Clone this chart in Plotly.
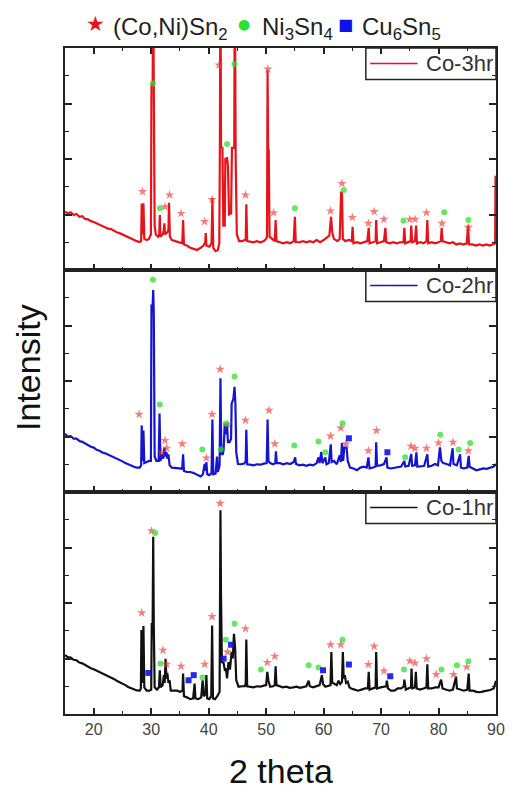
import plotly.graph_objects as go
from plotly.subplots import make_subplots

# ---------------------------------------------------------------------------
# XRD patterns (2theta in degrees, intensity in % of panel height)
# ---------------------------------------------------------------------------
co3hr_pattern = [
    (15.0, 26.3), (15.5, 25.5), (16.0, 26.0), (16.5, 24.8), (17.0, 25.2), (17.5, 24.0),
    (18.0, 24.2), (18.5, 23.0), (19.0, 22.8), (19.5, 22.0), (20.0, 21.6), (20.5, 21.0),
    (21.0, 20.3), (21.5, 19.8), (22.0, 19.4), (22.5, 18.6), (23.0, 18.4), (23.5, 17.6),
    (24.0, 17.0), (24.5, 16.6), (25.0, 16.0), (25.5, 15.2), (26.0, 14.8), (26.5, 14.0),
    (27.0, 13.6), (27.5, 13.0), (28.0, 12.6), (28.25, 13.0), (28.35, 30.0), (28.5, 16.0),
    (28.65, 30.0), (28.8, 14.0), (29.2, 13.5), (29.6, 14.0), (29.95, 16.0), (30.05, 83.0),
    (30.25, 85.0), (30.35, 130.0), (30.45, 82.0), (30.6, 20.0), (30.8, 16.0), (31.2, 15.0),
    (31.4, 16.0), (31.5, 24.8), (31.6, 15.0), (32.0, 16.0), (32.2, 18.0), (32.3, 21.0),
    (32.4, 16.0), (32.8, 17.0), (33.0, 18.0), (33.1, 30.3), (33.25, 15.0), (33.6, 13.5),
    (34.2, 13.0), (34.8, 12.5), (35.4, 12.0), (35.55, 22.5), (35.7, 11.5), (36.2, 11.0),
    (36.8, 10.0), (37.4, 9.5), (38.0, 9.0), (38.6, 10.0), (39.1, 11.0), (39.4, 12.5),
    (39.5, 16.6), (39.6, 11.0), (40.1, 10.5), (40.5, 12.0), (40.65, 32.4), (40.8, 10.0),
    (41.2, 8.5), (41.6, 9.0), (41.85, 12.0), (41.95, 55.0), (42.05, 135.0), (42.15, 55.5),
    (42.4, 55.0), (42.55, 20.0), (42.8, 20.0), (42.9, 50.0), (43.2, 50.4), (43.35, 47.0),
    (43.55, 25.0), (43.9, 25.5), (44.05, 55.0), (44.45, 55.0), (44.55, 135.0), (44.7, 50.0),
    (44.9, 16.0), (45.3, 13.0), (45.8, 13.0), (46.3, 13.5), (46.45, 14.0), (46.55, 29.6),
    (46.7, 13.0), (47.2, 12.8), (47.8, 12.5), (48.4, 13.0), (49.0, 12.5), (49.6, 13.0),
    (50.0, 14.0), (50.15, 15.0), (50.25, 90.0), (50.35, 54.0), (50.45, 54.0), (50.6, 15.0),
    (51.0, 14.0), (51.5, 13.0), (51.65, 22.5), (51.8, 13.0), (52.4, 12.5), (53.0, 12.0),
    (53.6, 12.5), (54.2, 12.0), (54.8, 13.0), (55.0, 24.0), (55.15, 12.5), (55.8, 12.5),
    (56.4, 13.0), (57.0, 12.5), (57.6, 13.0), (58.2, 12.5), (58.8, 13.5), (59.4, 12.5),
    (60.0, 13.5), (60.6, 14.5), (61.0, 15.5), (61.3, 24.0), (61.5, 17.0), (61.8, 14.0),
    (62.4, 13.0), (62.8, 14.0), (62.95, 25.0), (63.05, 35.3), (63.2, 34.5), (63.35, 14.0),
    (63.8, 13.0), (64.4, 13.5), (64.9, 13.0), (65.05, 19.5), (65.2, 12.0), (65.8, 12.5),
    (66.4, 12.0), (67.0, 12.5), (67.6, 13.0), (67.85, 19.0), (68.0, 12.0), (68.6, 12.5),
    (69.05, 13.0), (69.15, 22.5), (69.3, 12.0), (69.9, 12.5), (70.5, 13.0), (70.75, 19.0),
    (70.9, 12.5), (71.5, 12.0), (72.1, 12.5), (72.7, 12.0), (73.3, 12.5), (73.9, 12.5),
    (74.05, 19.0), (74.2, 12.0), (74.8, 12.5), (75.15, 13.0), (75.25, 20.0), (75.4, 12.5),
    (75.9, 13.0), (76.1, 20.0), (76.25, 12.0), (76.8, 12.5), (77.4, 12.0), (77.9, 13.0),
    (78.05, 22.5), (78.2, 12.0), (78.8, 12.5), (79.4, 12.0), (80.0, 12.5), (80.4, 13.0),
    (80.55, 19.0), (80.7, 13.0), (81.3, 12.5), (81.9, 12.0), (82.5, 12.5), (83.1, 11.5),
    (83.7, 12.0), (84.3, 11.5), (84.9, 12.0), (85.15, 20.0), (85.3, 11.5), (85.9, 11.5),
    (86.5, 11.0), (87.1, 11.5), (87.7, 11.0), (88.3, 11.5), (88.9, 11.0), (89.5, 11.5),
    (89.85, 12.0), (89.92, 42.0), (90.0, 42.0),
]

co2hr_pattern = [
    (15.0, 26.2), (15.5, 25.0), (16.0, 25.2), (16.5, 24.0), (17.0, 24.0), (17.5, 23.0),
    (18.0, 22.6), (18.5, 21.8), (19.0, 21.2), (19.5, 20.4), (20.0, 20.0), (20.5, 19.0),
    (21.0, 18.6), (21.5, 17.8), (22.0, 17.4), (22.5, 16.8), (23.0, 16.4), (23.5, 15.8),
    (24.0, 15.2), (24.5, 14.4), (25.0, 13.8), (25.5, 13.0), (26.0, 12.4), (26.5, 11.8),
    (27.0, 11.4), (27.5, 11.0), (28.0, 11.0), (28.25, 12.0), (28.35, 30.0), (28.5, 14.0),
    (28.65, 27.7), (28.8, 13.0), (29.2, 13.5), (29.6, 14.0), (29.95, 14.0), (30.05, 84.0),
    (30.25, 84.0), (30.35, 91.0), (30.45, 80.0), (30.6, 16.0), (30.9, 14.0), (31.3, 14.0),
    (31.45, 35.3), (31.6, 14.0), (31.9, 17.0), (32.1, 15.0), (32.3, 20.0), (32.5, 16.0),
    (32.65, 18.0), (32.8, 15.0), (33.0, 17.0), (33.2, 12.0), (33.6, 11.0), (34.2, 10.8),
    (34.8, 10.5), (35.4, 10.5), (35.55, 17.0), (35.7, 9.5), (36.2, 9.0), (36.8, 9.0),
    (37.4, 8.5), (38.0, 7.6), (38.6, 7.0), (39.0, 8.0), (39.3, 12.7), (39.5, 9.5),
    (39.6, 13.5), (39.75, 8.0), (40.1, 7.6), (40.5, 8.5), (40.65, 32.6), (40.8, 8.0),
    (41.2, 8.3), (41.45, 16.0), (41.6, 9.0), (41.9, 12.0), (42.05, 51.2), (42.2, 17.0),
    (42.45, 17.0), (42.6, 19.0), (42.8, 30.8), (43.05, 26.0), (43.2, 30.8), (43.35, 22.4),
    (43.65, 22.4), (43.9, 24.0), (44.0, 39.8), (44.3, 42.0), (44.5, 47.4), (44.65, 40.0),
    (44.8, 18.0), (45.1, 12.6), (45.6, 12.5), (46.2, 12.8), (46.45, 14.0), (46.55, 28.0),
    (46.7, 12.5), (47.2, 12.3), (47.8, 12.0), (48.4, 12.5), (49.0, 12.3), (49.6, 12.8),
    (50.1, 13.0), (50.25, 32.6), (50.4, 14.0), (50.7, 13.0), (51.2, 12.5), (51.6, 13.0),
    (51.7, 18.3), (51.85, 13.0), (52.4, 13.0), (53.0, 12.5), (53.6, 13.0), (54.2, 12.6),
    (54.8, 13.5), (55.05, 15.6), (55.2, 12.6), (55.8, 12.0), (56.4, 12.3), (57.0, 11.8),
    (57.6, 12.3), (58.2, 12.0), (58.8, 13.0), (59.1, 15.6), (59.3, 13.0), (59.6, 18.0),
    (59.8, 13.0), (60.3, 15.6), (60.5, 12.5), (60.9, 13.0), (61.25, 21.5), (61.4, 13.5),
    (61.8, 14.0), (62.3, 12.5), (62.8, 16.5), (63.0, 13.5), (63.2, 22.0), (63.4, 14.0),
    (63.6, 20.0), (64.0, 20.0), (64.2, 14.0), (64.6, 11.0), (65.2, 10.6), (65.8, 9.8),
    (66.4, 11.0), (67.0, 11.4), (67.5, 11.0), (67.8, 15.6), (68.0, 10.6), (68.6, 11.0),
    (69.05, 11.5), (69.15, 22.4), (69.3, 11.8), (69.9, 12.0), (70.5, 12.6), (70.95, 15.6),
    (71.1, 11.0), (71.7, 10.6), (72.3, 11.0), (72.9, 11.4), (73.5, 11.5), (74.05, 14.0),
    (74.2, 11.5), (74.8, 11.8), (75.25, 17.1), (75.4, 11.8), (75.9, 12.0), (76.15, 17.9),
    (76.3, 11.4), (76.9, 11.5), (77.5, 11.8), (78.05, 17.0), (78.2, 11.4), (78.8, 11.8),
    (79.4, 12.6), (79.9, 12.0), (80.25, 20.1), (80.5, 14.0), (80.8, 13.0), (81.4, 12.6),
    (82.0, 12.0), (82.45, 19.7), (82.6, 12.6), (83.2, 12.0), (83.75, 17.0), (83.9, 11.0),
    (84.4, 10.6), (85.0, 11.0), (85.25, 16.3), (85.4, 11.4), (86.0, 10.5), (86.6, 9.8),
    (87.2, 10.2), (87.8, 10.6), (88.4, 10.4), (89.0, 11.0), (89.6, 11.5), (90.0, 12.6),
]

co1hr_pattern = [
    (15.0, 26.5), (15.5, 25.6), (16.0, 25.4), (16.5, 24.4), (17.0, 24.2), (17.5, 23.2),
    (18.0, 22.8), (18.5, 22.0), (19.0, 21.2), (19.5, 20.6), (20.0, 20.2), (20.5, 19.6),
    (21.0, 19.0), (21.5, 18.2), (22.0, 17.6), (22.5, 17.0), (23.0, 16.6), (23.5, 15.8),
    (24.0, 15.0), (24.5, 14.4), (25.0, 13.6), (25.5, 13.0), (26.0, 12.2), (26.5, 11.6),
    (27.0, 11.0), (27.5, 10.6), (28.0, 10.5), (28.2, 11.5), (28.3, 37.8), (28.45, 14.0),
    (28.65, 39.6), (28.8, 12.0), (29.2, 10.5), (29.7, 10.5), (30.0, 11.0), (30.1, 40.5),
    (30.25, 40.5), (30.35, 79.8), (30.45, 40.0), (30.6, 12.0), (31.0, 11.0), (31.35, 12.0),
    (31.5, 19.7), (31.65, 12.0), (32.0, 13.0), (32.2, 17.5), (32.35, 14.0), (32.5, 24.9),
    (32.65, 16.0), (32.8, 18.5), (33.0, 14.0), (33.2, 15.2), (33.4, 10.5), (33.9, 10.5),
    (34.5, 10.5), (35.0, 10.0), (35.45, 10.5), (35.55, 18.2), (35.7, 8.0), (36.2, 7.5),
    (36.8, 6.7), (37.3, 7.0), (37.55, 13.7), (37.7, 7.0), (38.2, 6.7), (38.7, 7.5),
    (38.95, 15.2), (39.15, 8.0), (39.45, 9.0), (39.6, 17.5), (39.75, 7.0), (40.1, 6.7),
    (40.45, 8.0), (40.6, 39.9), (40.75, 7.0), (41.1, 6.7), (41.5, 8.0), (41.9, 10.0),
    (42.0, 53.4), (42.05, 91.8), (42.15, 53.4), (42.3, 23.4), (42.6, 23.0), (42.8, 20.0),
    (43.0, 20.4), (43.2, 16.0), (43.45, 23.4), (43.7, 20.0), (44.0, 27.9), (44.2, 25.0),
    (44.4, 36.1), (44.6, 30.0), (44.8, 15.2), (45.2, 12.3), (45.8, 12.5), (46.3, 12.5),
    (46.45, 14.0), (46.55, 33.5), (46.7, 12.5), (47.2, 12.3), (47.8, 12.0), (48.4, 12.5),
    (49.0, 12.3), (49.6, 12.8), (50.0, 13.0), (50.2, 19.0), (50.4, 15.0), (50.7, 12.3),
    (51.2, 12.5), (51.5, 13.0), (51.65, 21.5), (51.8, 13.0), (52.3, 12.5), (52.9, 12.0),
    (53.5, 12.3), (54.1, 11.8), (54.7, 12.0), (55.3, 12.3), (55.9, 11.8), (56.5, 12.0),
    (57.0, 12.5), (57.4, 15.0), (57.6, 12.5), (58.2, 12.0), (58.8, 12.5), (59.3, 13.0),
    (59.7, 17.5), (59.9, 13.5), (60.3, 12.3), (60.8, 12.5), (61.2, 13.0), (61.35, 27.9),
    (61.5, 14.0), (61.8, 13.7), (62.3, 13.0), (62.6, 15.0), (62.9, 13.5), (63.2, 14.5),
    (63.35, 27.9), (63.5, 16.0), (63.7, 17.5), (63.9, 14.0), (64.2, 14.5), (64.5, 12.0),
    (64.8, 11.5), (65.4, 11.0), (66.0, 10.5), (66.6, 11.0), (67.2, 11.5), (67.7, 11.5),
    (67.85, 19.0), (68.0, 11.0), (68.6, 11.5), (69.05, 12.0), (69.15, 27.9), (69.3, 11.5),
    (69.9, 12.0), (70.5, 12.3), (70.9, 12.5), (71.0, 15.0), (71.2, 11.5), (71.7, 10.5),
    (72.3, 10.5), (72.9, 11.5), (73.5, 11.5), (73.95, 12.5), (74.05, 15.5), (74.3, 11.0),
    (74.8, 11.5), (75.2, 12.0), (75.3, 20.5), (75.45, 11.5), (75.9, 12.0), (76.05, 19.0),
    (76.2, 11.5), (76.8, 11.0), (77.4, 11.5), (77.9, 12.0), (78.05, 22.4), (78.2, 11.5),
    (78.8, 11.5), (79.4, 12.0), (80.0, 12.0), (80.45, 15.5), (80.7, 11.5), (81.3, 11.0),
    (81.9, 10.5), (82.5, 11.0), (83.05, 16.8), (83.2, 11.5), (83.8, 11.0), (84.4, 10.5),
    (85.0, 11.0), (85.25, 18.2), (85.4, 10.5), (86.0, 10.5), (86.6, 10.0), (87.2, 9.8),
    (87.8, 10.2), (88.4, 10.5), (89.0, 10.8), (89.6, 11.5), (89.9, 15.0), (90.0, 15.0),
]

# ---------------------------------------------------------------------------
# Phase identification marks (2theta, height) per sample
# ---------------------------------------------------------------------------
coni_sn2_3hr = [
    (28.5, 35.3), (32.4, 28.5), (33.2, 33.8), (35.2, 25.5), (39.3, 21.8), (40.6, 31.8),
    (41.8, 92.3), (46.4, 33.8), (50.3, 90.5), (51.3, 25.8), (61.2, 26.6), (63.2, 39.0),
    (65.0, 23.7), (67.8, 21.0), (68.8, 26.3), (70.5, 22.8), (75.0, 22.8), (75.9, 22.8),
    (77.9, 25.8), (80.6, 21.0), (85.2, 19.2),
]
ni3sn4_3hr = [
    (30.3, 84.0), (31.5, 27.8), (43.2, 56.8), (44.5, 92.8), (55.0, 27.8), (63.5, 36.0),
    (73.9, 22.2), (81.0, 26.0), (85.2, 22.5),
]
cu6sn5_3hr = []

coni_sn2_2hr = [
    (27.9, 35.0), (31.8, 17.9), (32.4, 23.2), (32.7, 19.7), (35.4, 21.7), (39.6, 15.3),
    (40.6, 35.0), (42.0, 55.3), (43.3, 30.5), (46.4, 32.3), (50.5, 36.8), (51.5, 21.7),
    (61.2, 25.2), (63.0, 28.8), (63.9, 21.7), (67.8, 18.6), (69.2, 27.7), (75.2, 20.6),
    (75.9, 19.7), (77.9, 19.7), (80.0, 22.1), (82.5, 22.4), (85.2, 18.6),
]
ni3sn4_2hr = [
    (30.3, 95.6), (31.5, 39.4), (38.9, 19.1), (42.1, 19.1), (43.0, 30.8), (44.5, 52.0),
    (54.9, 20.9), (59.1, 22.7), (60.3, 17.9), (63.3, 31.0), (74.2, 15.6), (80.3, 25.8),
    (83.5, 19.1), (85.5, 22.1),
]
cu6sn5_2hr = [(64.4, 24.2), (71.1, 17.9)]

coni_sn2_1hr = [
    (28.35, 45.6), (30.05, 82.5), (32.05, 28.7), (32.7, 22.4), (35.2, 21.5), (39.3, 22.4),
    (40.6, 43.9), (42.0, 94.9), (43.3, 27.9), (46.4, 38.4), (50.2, 23.2), (51.5, 26.0),
    (61.2, 31.2), (63.0, 31.2), (67.8, 22.3), (68.8, 30.5), (70.5, 19.4), (75.0, 23.9),
    (75.9, 23.0), (77.9, 24.9), (79.6, 17.8), (82.6, 17.8), (84.9, 21.2),
]
ni3sn4_1hr = [
    (30.7, 81.5), (31.6, 22.7), (38.9, 16.4), (43.0, 33.5), (44.5, 40.6), (49.1, 20.0),
    (57.4, 22.0), (59.1, 20.9), (63.3, 33.5), (74.0, 20.0), (80.5, 20.0), (83.2, 22.0),
    (85.2, 23.8),
]
cu6sn5_1hr = [
    (29.5, 18.5), (36.5, 15.2), (37.4, 17.5), (42.6, 24.9), (43.9, 31.2), (59.9, 19.7),
    (64.4, 22.3), (71.6, 17.0),
]

sample_names = ["Co-3hr", "Co-2hr", "Co-1hr"]
sample_colors = ["#e8121a", "#1414d2", "#111111"]
patterns = [co3hr_pattern, co2hr_pattern, co1hr_pattern]
phase_marks = [
    (coni_sn2_3hr, ni3sn4_3hr, cu6sn5_3hr),
    (coni_sn2_2hr, ni3sn4_2hr, cu6sn5_2hr),
    (coni_sn2_1hr, ni3sn4_1hr, cu6sn5_1hr),
]
phase_style = [
    dict(symbol="star", color="#f03838", size=7, opacity=0.65),
    dict(symbol="circle", color="#2ee02e", size=6, opacity=0.75),
    dict(symbol="square", color="#1010e8", size=6, opacity=0.9),
]

x_ticks = [20, 30, 40, 50, 60, 70, 80, 90]

FONT = "Liberation Sans, Arial, sans-serif"
AXIS = "#222222"

fig = make_subplots(rows=3, cols=1, shared_xaxes=True, vertical_spacing=0)

for row, (pattern, color, marks) in enumerate(zip(patterns, sample_colors, phase_marks), start=1):
    tth = [p[0] for p in pattern]
    inten = [p[1] for p in pattern]
    fig.add_trace(
        go.Scatter(x=tth, y=inten, mode="lines",
                   line=dict(color=color, width=2.2), showlegend=False, hoverinfo="skip"),
        row=row, col=1,
    )
    for pts, style in zip(marks, phase_style):
        if not pts:
            continue
        fig.add_trace(
            go.Scatter(x=[p[0] for p in pts], y=[p[1] for p in pts], mode="markers",
                       marker=dict(symbol=style["symbol"], color=style["color"],
                                   size=style["size"], opacity=style["opacity"],
                                   line=dict(width=0)),
                       showlegend=False, hoverinfo="skip"),
            row=row, col=1,
        )

for row in (1, 2, 3):
    fig.update_xaxes(
        range=[15, 90], tickvals=x_ticks, ticktext=[str(t) for t in x_ticks],
        ticks="inside", ticklen=6, tickwidth=1.5, tickcolor=AXIS,
        showline=True, linewidth=2, linecolor=AXIS,
        mirror="ticks" if row == 1 else True,
        showgrid=False, zeroline=False,
        minor=dict(ticks="inside", tickvals=[25, 35, 45, 55, 65, 75, 85],
                   ticklen=3, tickwidth=1.2, tickcolor=AXIS, showgrid=False),
        tickfont=dict(family=FONT, size=16, color="#444444"),
        row=row, col=1,
    )
    fig.update_yaxes(
        range=[0, 100], tickvals=[25, 50, 75], showticklabels=False,
        ticks="inside", ticklen=7, tickwidth=1.5, tickcolor=AXIS,
        showline=True, linewidth=2, linecolor=AXIS, mirror="ticks",
        showgrid=False, zeroline=False,
        minor=dict(ticks="inside", tickvals=[12.5, 37.5, 62.5, 87.5],
                   ticklen=4, tickwidth=1.2, tickcolor=AXIS, showgrid=False),
        row=row, col=1,
    )

# Per-panel sample keys (boxed, top right)
axis_ids = [("x", "y"), ("x2", "y2"), ("x3", "y3")]
for (xa, ya), name, color in zip(axis_ids, sample_names, sample_colors):
    fig.add_shape(type="rect", xref=f"{xa} domain", yref=f"{ya} domain",
                  x0=0.698, x1=1.0, y0=0.858, y1=1.0,
                  line=dict(color=AXIS, width=1.5), fillcolor="rgba(0,0,0,0)")
    fig.add_shape(type="line", xref=f"{xa} domain", yref=f"{ya} domain",
                  x0=0.708, x1=0.818, y0=0.93, y1=0.93,
                  line=dict(color=color, width=1.5))
    fig.add_annotation(xref=f"{xa} domain", yref=f"{ya} domain", x=0.832, y=0.93,
                       xanchor="left", yanchor="middle", showarrow=False, text=name,
                       font=dict(family=FONT, size=22, color="#333333"))

# Phase key above the panels
phase_key = [
    ("★", "#e8121a", 21, 0.071, "(Co,Ni)Sn<sub>2</sub>", 0.107),
    ("●", "#2ee02e", 14, 0.415, "Ni<sub>3</sub>Sn<sub>4</sub>", 0.452),
    ("■", "#1010e8", 16, 0.651, "Cu<sub>6</sub>Sn<sub>5</sub>", 0.685),
]
for glyph, gcolor, gsize, gx, label, lx in phase_key:
    fig.add_annotation(xref="paper", yref="paper", x=gx, y=1.036, xanchor="center",
                       yanchor="middle", showarrow=False, text=glyph,
                       font=dict(family="DejaVu Sans", size=gsize, color=gcolor))
    fig.add_annotation(xref="paper", yref="paper", x=lx, y=1.030, xanchor="left",
                       yanchor="middle", showarrow=False, text=label,
                       font=dict(family=FONT, size=24, color="#222222"))

fig.add_annotation(xref="paper", yref="paper", x=0.5, y=-0.0856, xanchor="center",
                   yanchor="middle", showarrow=False, text="2 theta",
                   font=dict(family=FONT, size=34, color="#111111"))
fig.add_annotation(xref="paper", yref="paper", x=-0.086, y=0.521, xanchor="center",
                   yanchor="middle", showarrow=False, text="Intensity", textangle=-90,
                   font=dict(family=FONT, size=34, color="#111111"))

fig.update_layout(
    width=517, height=792,
    margin=dict(l=65, r=12, t=48, b=78),
    paper_bgcolor="white", plot_bgcolor="white",
    showlegend=False,
)

fig.write_html("out.html")
